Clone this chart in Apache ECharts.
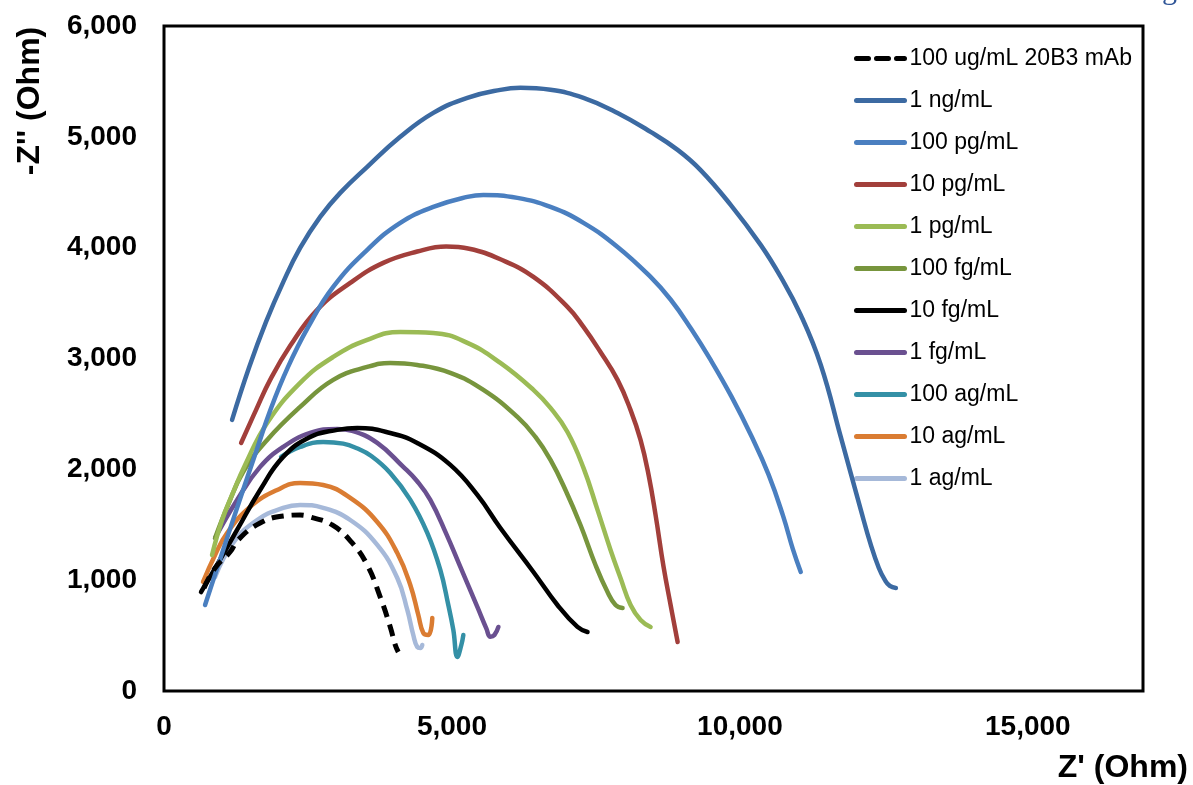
<!DOCTYPE html>
<html>
<head>
<meta charset="utf-8">
<script src="https://cdn.jsdelivr.net/npm/echarts@6/dist/echarts.min.js"></script>
<style>
  html, body { margin: 0; padding: 0; background: #fff; }
  #chart { width: 1193px; height: 785px; }
</style>
</head>
<body>
<div id="chart"></div>
<script>
// Nyquist plots: Z' (real) vs -Z'' (imaginary), in Ohm
const seriesNames = [
  '100 ug/mL 20B3 mAb', '1 ng/mL', '100 pg/mL', '10 pg/mL', '1 pg/mL',
  '100 fg/mL', '10 fg/mL', '1 fg/mL', '100 ag/mL', '10 ag/mL', '1 ag/mL'
];

const mAb100ug = [[695,930],[887,1110],[1147,1254],[1286,1363],[1669,1516],[2069,1579],[2364,1588],[2538,1570],[2921,1498],[3268,1336],[3529,1137],[3755,848],[3929,578],[4016,415],[4068,352]];
const ng1 = [[1182,2446],[1477,2918],[1773,3332],[2068,3687],[2364,3998],[2712,4278],[3060,4494],[3529,4729],[4103,5000],[4676,5216],[5267,5352],[5841,5424],[6189,5442],[6711,5424],[7284,5352],[7876,5216],[8449,5045],[8919,4882],[9318,4700],[9840,4386],[10361,4025],[10709,3736],[11057,3393],[11405,2942],[11752,2292],[12100,1634],[12274,1318],[12413,1110],[12517,1002],[12604,948],[12709,930]];
const pg100 = [[713,776],[1000,1230],[1300,1700],[1600,2160],[1850,2540],[2150,2920],[2500,3280],[2938,3646],[3529,3980],[4103,4224],[4676,4368],[5267,4458],[5546,4476],[6137,4449],[6711,4368],[7284,4224],[7876,4007],[8449,3736],[8800,3530],[9150,3270],[9500,2980],[9850,2660],[10200,2300],[10500,1950],[10750,1580],[10920,1280],[11057,1074]];
const pg10 = [[1339,2238],[1599,2536],[1843,2807],[2191,3114],[2660,3439],[3234,3682],[3807,3863],[4398,3965],[4900,4010],[5300,3990],[5841,3895],[6415,3736],[7006,3466],[7284,3285],[7579,3059],[7876,2807],[8101,2536],[8275,2265],[8415,1949],[8536,1588],[8675,1119],[8797,776],[8919,442]];
const pg1 = [[834,1227],[1008,1543],[1182,1769],[1408,2040],[1791,2419],[2364,2780],[2938,3014],[3529,3168],[4103,3240],[4676,3231],[5268,3141],[5841,2960],[6415,2717],[6711,2554],[7006,2337],[7284,2013],[7528,1634],[7754,1273],[7927,1020],[8102,776],[8276,641],[8449,578]];
const fg100 = [[887,1381],[1113,1679],[1373,1976],[1791,2265],[2364,2563],[2938,2807],[3529,2924],[3929,2960],[4398,2942],[4972,2870],[5546,2717],[6137,2473],[6450,2292],[6711,2085],[6971,1814],[7232,1498],[7493,1137],[7702,893],[7841,776],[7963,749]];
const fg10 = [[643,893],[921,1137],[1269,1453],[1669,1814],[2069,2112],[2538,2292],[3008,2356],[3355,2374],[3929,2328],[4398,2238],[4972,2040],[5441,1769],[5841,1471],[6415,1074],[6832,776],[7180,578],[7354,532]];
const fg1 = [[887,1381],[1269,1724],[1669,2022],[2069,2202],[2538,2328],[3008,2365],[3268,2347],[3703,2238],[4155,2022],[4400,1890],[4624,1724],[4900,1420],[5146,1119],[5441,758],[5600,560],[5667,490],[5737,505],[5807,578]];
const ag100 = [[2034,2112],[2364,2202],[2764,2247],[3112,2232],[3350,2190],[3600,2120],[3929,1967],[4277,1724],[4572,1426],[4798,1092],[4937,776],[5024,551],[5094,307],[5163,415],[5198,505]];
const ag10 = [[678,984],[887,1227],[1095,1426],[1495,1661],[1965,1814],[2364,1877],[2764,1859],[3234,1742],[3703,1525],[4051,1245],[4277,957],[4416,686],[4503,523],[4590,505],[4659,659]];
const ag1 = [[887,1029],[1200,1336],[1617,1543],[2069,1652],[2364,1679],[2764,1652],[3234,1543],[3703,1318],[4051,1020],[4225,731],[4329,505],[4398,397],[4451,388],[4485,415]];

const seriesData = [mAb100ug, ng1, pg100, pg10, pg1, fg100, fg10, fg1, ag100, ag10, ag1];
const seriesColors = ['#000000', '#3C6AA2', '#4A7FC0', '#A23F3B', '#9BBB55', '#77953D', '#000000', '#6A5090', '#3490A6', '#DA7C32', '#A6B9D9'];

const xTicks = [0, 5000, 10000, 15000];
const yTicks = [0, 1000, 2000, 3000, 4000, 5000, 6000];

const FONT = "'Liberation Sans', Arial, sans-serif";
const fmt = v => v.toLocaleString('en-US');

const chart = echarts.init(document.getElementById('chart'), null, { renderer: 'canvas' });

const series = seriesNames.map((name, i) => ({
  name: name,
  type: 'line',
  data: seriesData[i],
  smooth: 0.45,
  symbol: 'none',
  showSymbol: false,
  z: 20 - i,
  lineStyle: {
    color: seriesColors[i],
    width: i === 0 ? 5 : 4.5,
    type: i === 0 ? [12, 8] : 'solid',
    cap: i === 0 ? 'butt' : 'round',
    join: 'round'
  },
  itemStyle: { color: seriesColors[i] },
  emphasis: { disabled: true },
  animation: false
}));

chart.setOption({
  backgroundColor: '#ffffff',
  animation: false,
  grid: {
    left: 164, right: 50, top: 26, bottom: 94,
    show: true, borderColor: '#000', borderWidth: 3, backgroundColor: 'transparent'
  },
  xAxis: {
    type: 'value', min: 0, max: 17000, interval: 5000,
    axisLine: { show: false },
    axisTick: { show: false },
    splitLine: { show: false },
    axisLabel: {
      margin: 22, color: '#000', fontFamily: FONT, fontWeight: 'bold', fontSize: 28,
      showMaxLabel: false,
      formatter: v => (xTicks.indexOf(v) >= 0 ? fmt(v) : '')
    }
  },
  yAxis: {
    type: 'value', min: 0, max: 6000, interval: 1000,
    axisLine: { show: false },
    axisTick: { show: false },
    splitLine: { show: false },
    axisLabel: {
      margin: 27, color: '#000', fontFamily: FONT, fontWeight: 'bold', fontSize: 28,
      formatter: v => (yTicks.indexOf(v) >= 0 ? fmt(v) : '')
    }
  },
  legend: {
    orient: 'vertical', left: 854, top: 47, padding: 0,
    itemWidth: 48, itemHeight: 20, itemGap: 19,
    data: seriesNames,
    selectedMode: false,
    textStyle: { color: '#000', fontFamily: FONT, fontSize: 23 },
    itemStyle: { opacity: 0 },
    lineStyle: { width: 5, cap: 'round' }
  },
  graphic: [
    {
      type: 'text', x: 1188, y: 768,
      style: { text: "Z' (Ohm)", font: 'bold 32px ' + FONT, fill: '#000', align: 'right', verticalAlign: 'middle' }
    },
    {
      type: 'text', x: 30, y: 101, rotation: Math.PI / 2,
      style: { text: "-Z'' (Ohm)", font: 'bold 32px ' + FONT, fill: '#000', align: 'center', verticalAlign: 'middle' }
    },
    {
      type: 'text', x: 1162, y: -24,
      style: { text: 'g', font: '30px "Liberation Serif", "DejaVu Serif", serif', fill: '#2F5597' }
    }
  ],
  series: series
});
</script>
</body>
</html>
